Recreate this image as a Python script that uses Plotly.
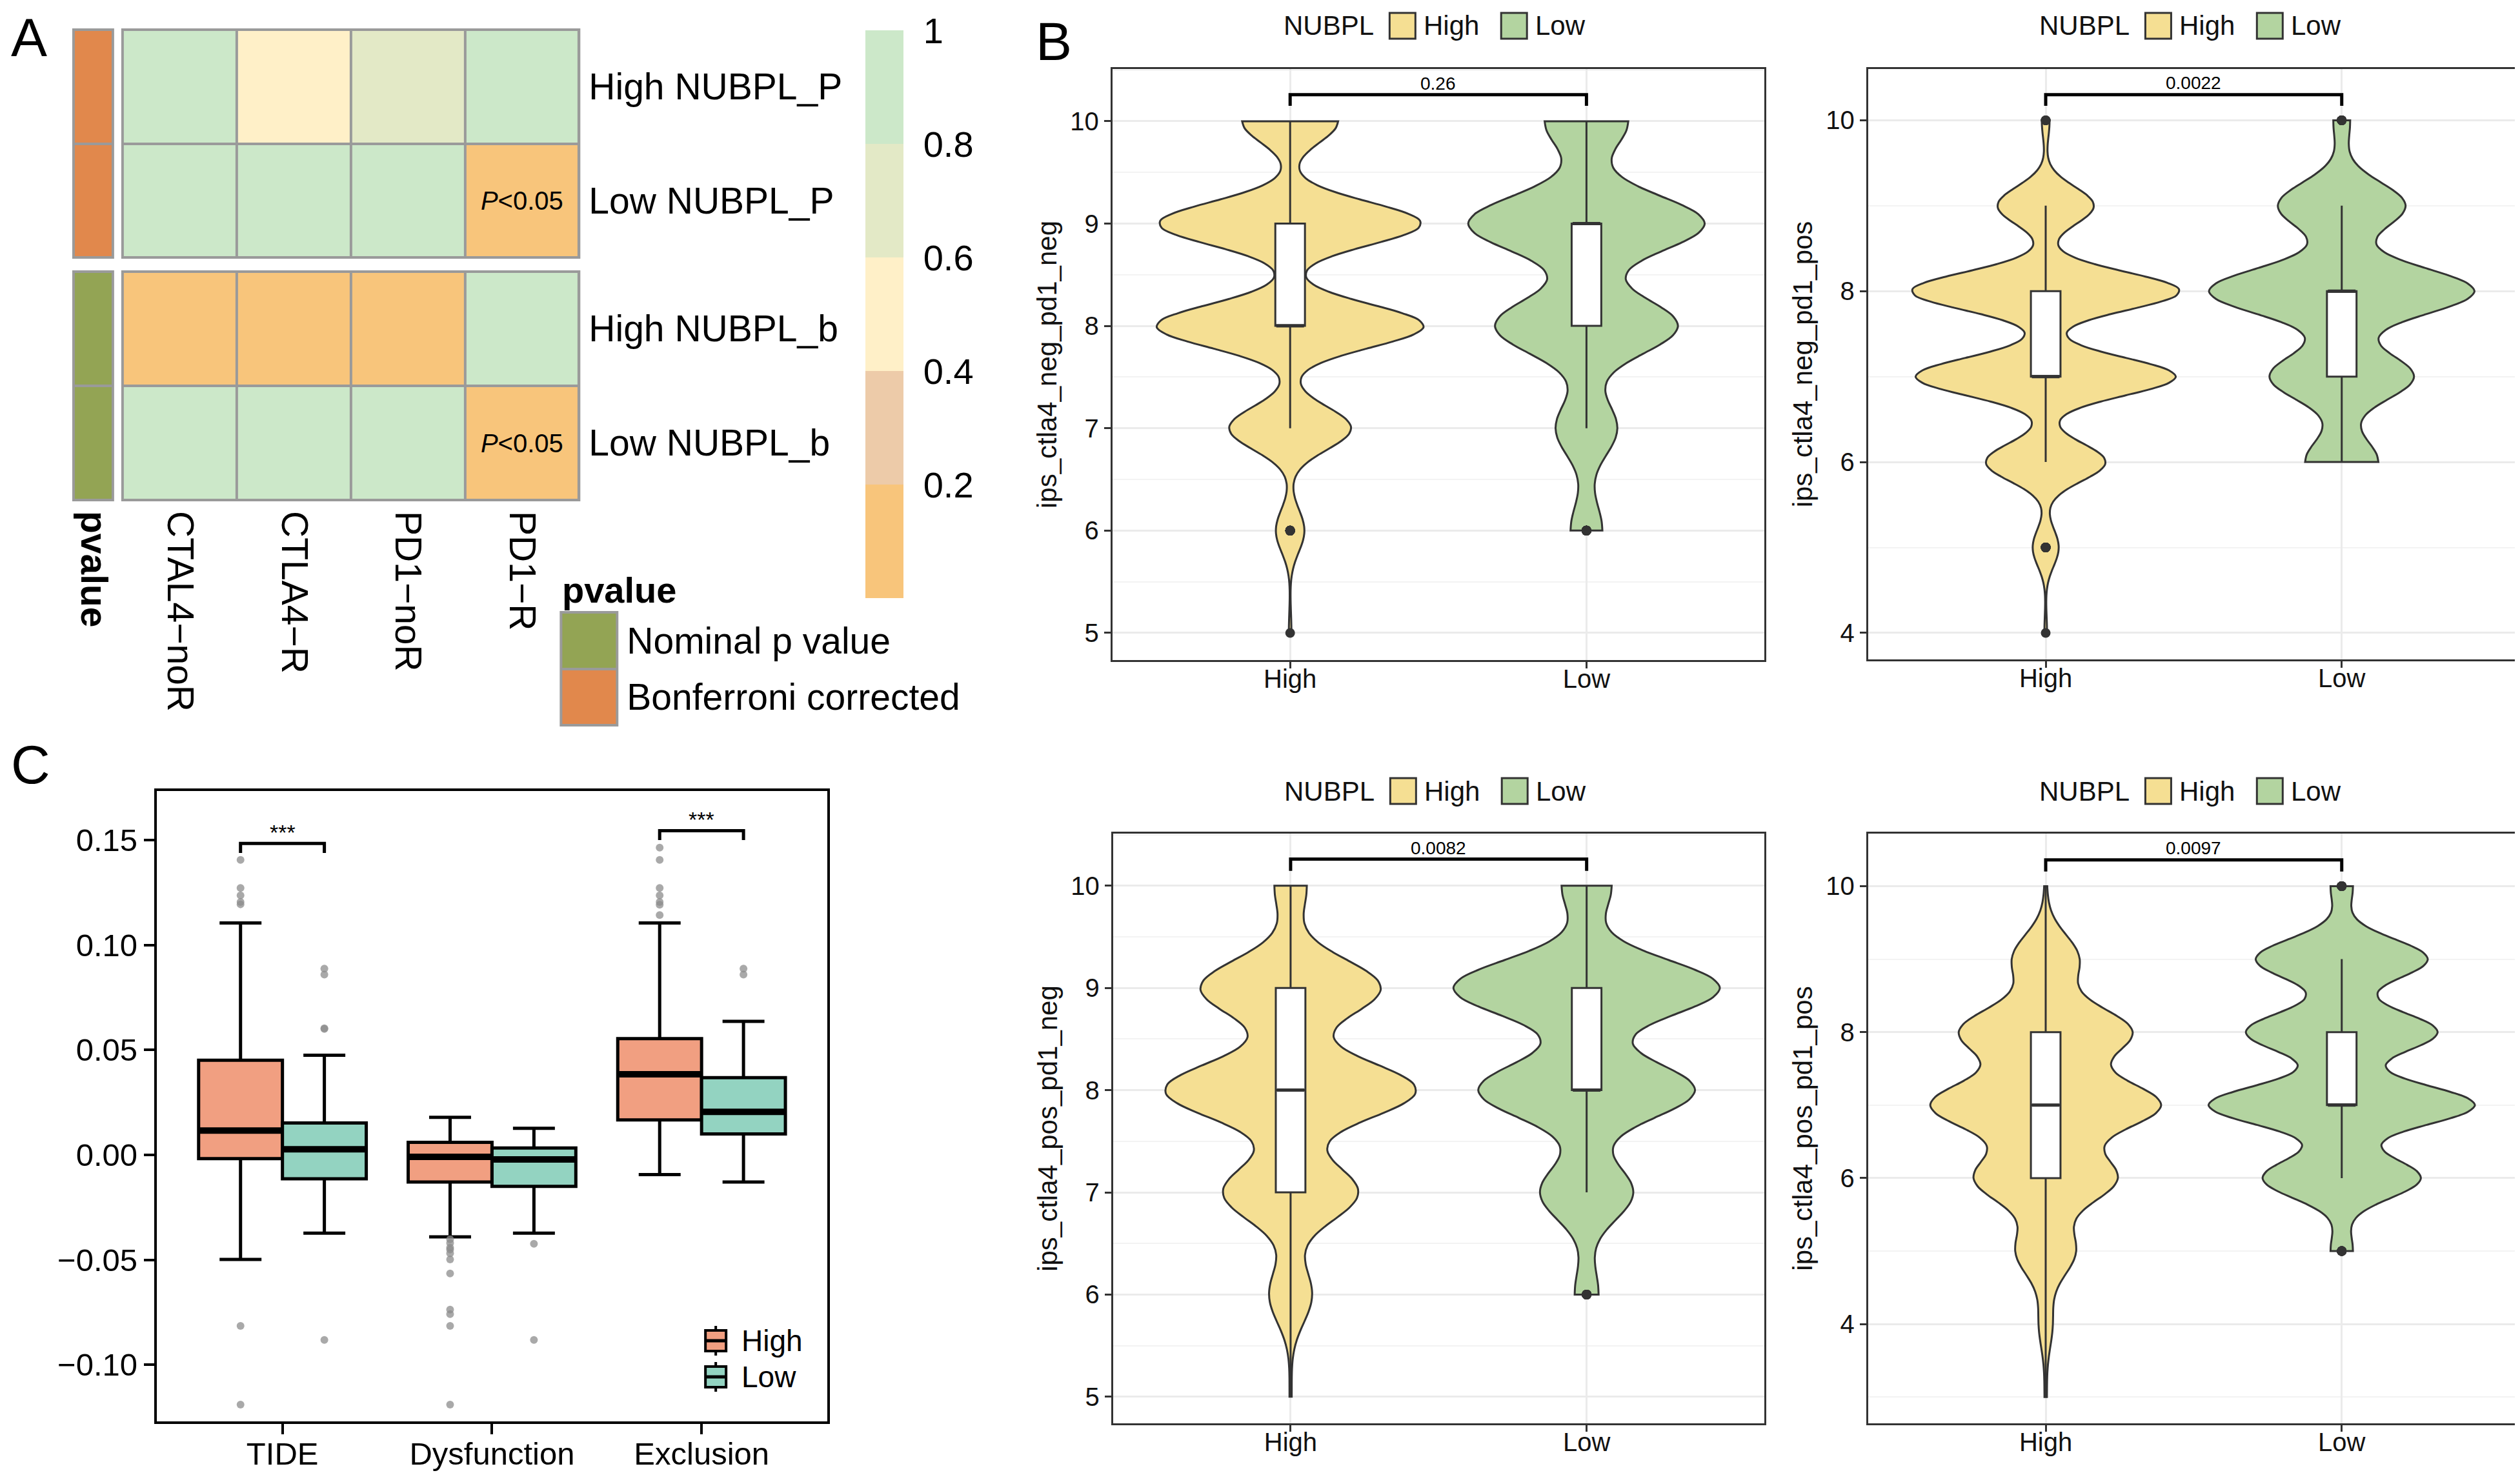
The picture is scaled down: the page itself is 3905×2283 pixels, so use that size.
import numpy as np
import plotly.graph_objects as go

W, H = 3905, 2283
FONT = "Liberation Sans, Arial, Helvetica, sans-serif"

# ---------------- Panel A data ----------------
immuno_cols = ["CTAL4−noR", "CTLA4−R", "PD1−noR", "PD1−R"]
rows_bonferroni = ["High NUBPL_P", "Low NUBPL_P"]
rows_nominal = ["High NUBPL_b", "Low NUBPL_b"]
p_bonferroni = [[0.96, 0.48, 0.70, 1.00],
                [1.00, 1.00, 1.00, 0.02]]
p_nominal = [[0.12, 0.12, 0.17, 0.90],
             [0.95, 0.95, 0.95, 0.004]]
pvalue_types = ["Nominal p value", "Bonferroni corrected"]
band_edges = [0, 0.2, 0.4, 0.6, 0.8, 1.0]
band_colors = ["#F8C57B", "#EDCBA9", "#FFF0C8", "#E3E9C6", "#CCE8C9"]
type_colors = ["#93A454", "#E1884C"]

# ---------------- Panel B data ----------------
score_levels = [3, 4, 5, 6, 7, 8, 9, 10]
ips_names = ["ips_ctla4_neg_pd1_neg", "ips_ctla4_neg_pd1_pos",
             "ips_ctla4_pos_pd1_neg", "ips_ctla4_pos_pd1_pos"]
neg_neg_high = [0, 0, 1, 11, 47, 103, 101, 37]
neg_neg_low = [0, 0, 0, 16, 31, 92, 119, 42]
neg_pos_high = [0, 1, 10, 46, 100, 103, 37, 3]
neg_pos_low = [0, 0, 0, 35, 69, 127, 61, 8]
pos_neg_high = [0, 0, 1, 20, 63, 117, 84, 15]
pos_neg_low = [0, 0, 0, 11, 43, 100, 123, 23]
pos_pos_high = [1, 6, 26, 62, 100, 75, 29, 1]
pos_pos_low = [0, 0, 8, 57, 96, 69, 62, 8]
kde_bw_high = [0.21, 0.222, 0.28, 0.338]
kde_bw_low = [0.274, 0.275, 0.275, 0.277]
p_labels = ["0.26", "0.0022", "0.0082", "0.0097"]
bracket_top = [10.26, 10.30, 10.26, 10.36]
bracket_tip = [10.15, 10.17, 10.145, 10.20]
label_y = [10.37, 10.44, 10.37, 10.52]
groups = ["High", "Low"]

# ---------------- Panel C data ----------------
tide_cats = ["TIDE", "Dysfunction", "Exclusion"]
high_q1 = [-0.0018, -0.0129, 0.0167]
high_median = [0.0116, -0.0009, 0.0384]
high_q3 = [0.0451, 0.0060, 0.0554]
high_lower = [-0.0498, -0.0391, -0.0094]
high_upper = [0.1105, 0.0179, 0.1105]
low_q1 = [-0.0114, -0.0150, 0.0100]
low_median = [0.0027, -0.0022, 0.0205]
low_q3 = [0.0152, 0.0033, 0.0368]
low_lower = [-0.0373, -0.0373, -0.0129]
low_upper = [0.0475, 0.0127, 0.0636]
high_out_tide = [0.1406, 0.1272, 0.1237, 0.1205, 0.1194, -0.0815, -0.1190]
high_out_dys = [-0.0402, -0.0420, -0.0442, -0.0451, -0.0469, -0.0498, -0.0565,
                -0.0737, -0.0759, -0.0815, -0.1190]
high_out_exc = [0.1464, 0.1406, 0.1272, 0.1237, 0.1205, 0.1192, 0.1143]
low_out_tide = [0.0888, 0.0859, 0.0603, 0.0600, -0.0882]
low_out_dys = [-0.0424, -0.0882]
low_out_exc = [0.0888, 0.0859]
sig_labels = ["***", "", "***"]
sig_bracket = [0.1484, None, 0.1545]
sig_tip = 0.0045

# ---------------- helpers ----------------
def dx(a, b):
    return [a / W, b / W]


def dy(top, bot):
    return [1 - bot / H, 1 - top / H]


def kde_peak(vals, bw):
    grid = np.linspace(vals.min(), vals.max(), 1501)
    d = np.exp(-0.5 * ((grid[:, None] - vals[None, :]) / bw) ** 2).sum(1)
    return d.max() / (len(vals) * bw * np.sqrt(2 * np.pi))


LINE_SYM = 1.4  # plotly draws line-ew / line-ns symbols 1.4x the marker size

fig = go.Figure()
layout = {}
shapes = []
annotations = []

pscale = []
for i, c in enumerate(band_colors):
    pscale.append([band_edges[i], c])
    pscale.append([band_edges[i + 1], c])

GRAY = "#9A9A9A"
noax = dict(showgrid=False, zeroline=False, ticks="", showticklabels=False, showline=False)


def cell_text(mat):
    return [["<i>P</i>&lt;0.05" if v < 0.05 else "" for v in row] for row in mat]


# ---------------- Panel A ----------------
fig.add_trace(go.Heatmap(z=p_bonferroni, x=immuno_cols, y=rows_bonferroni, coloraxis="coloraxis",
                         xgap=4, ygap=4, text=cell_text(p_bonferroni), texttemplate="%{text}",
                         textfont=dict(size=40, color="black", family=FONT),
                         xaxis="x", yaxis="y", hoverinfo="skip"))
fig.add_trace(go.Heatmap(z=p_nominal, x=immuno_cols, y=rows_nominal, coloraxis="coloraxis",
                         xgap=4, ygap=4, text=cell_text(p_nominal), texttemplate="%{text}",
                         textfont=dict(size=40, color="black", family=FONT),
                         xaxis="x2", yaxis="y2", hoverinfo="skip"))
type_scale = [[0, type_colors[0]], [0.5, type_colors[0]], [0.5, type_colors[1]], [1, type_colors[1]]]
fig.add_trace(go.Heatmap(z=[[1], [1]], x=["pvalue"], y=rows_bonferroni, colorscale=type_scale,
                         zmin=0, zmax=1, showscale=False, ygap=4, xgap=4,
                         xaxis="x3", yaxis="y3", hoverinfo="skip"))
fig.add_trace(go.Heatmap(z=[[0], [0]], x=["pvalue"], y=rows_nominal, colorscale=type_scale,
                         zmin=0, zmax=1, showscale=False, ygap=4, xgap=4,
                         xaxis="x4", yaxis="y4", hoverinfo="skip"))
fig.add_trace(go.Heatmap(z=[[0], [1]], x=["pvalue"], y=pvalue_types, colorscale=type_scale,
                         zmin=0, zmax=1, showscale=False, ygap=4, xgap=4,
                         xaxis="x9", yaxis="y9", hoverinfo="skip"))

layout["xaxis"] = dict(domain=dx(182, 890), anchor="y", **noax)
layout["yaxis"] = dict(domain=dy(38, 391), anchor="x", side="right", autorange="reversed",
                       showgrid=False, zeroline=False, ticks="", ticklabelstandoff=14,
                       tickfont=dict(size=57))
layout["xaxis2"] = dict(domain=dx(182, 890), anchor="y2", showgrid=False, zeroline=False, ticks="",
                        tickangle=90, tickfont=dict(size=57), ticklabelstandoff=16)
layout["yaxis2"] = dict(domain=dy(413, 767), anchor="x2", side="right", autorange="reversed",
                        showgrid=False, zeroline=False, ticks="", ticklabelstandoff=14,
                        tickfont=dict(size=57))
layout["xaxis3"] = dict(domain=dx(106, 167), anchor="y3", **noax)
layout["yaxis3"] = dict(domain=dy(38, 391), anchor="x3", autorange="reversed", **noax)
layout["xaxis4"] = dict(domain=dx(106, 167), anchor="y4", showgrid=False, zeroline=False, ticks="",
                        tickangle=90, tickfont=dict(size=57, weight="bold"), ticklabelstandoff=16)
layout["yaxis4"] = dict(domain=dy(413, 767), anchor="x4", autorange="reversed", **noax)
layout["xaxis9"] = dict(domain=dx(862, 949), anchor="y9", **noax)
layout["yaxis9"] = dict(domain=dy(941, 1116), anchor="x9", side="right", autorange="reversed",
                        showgrid=False, zeroline=False, ticks="", ticklabelstandoff=14,
                        tickfont=dict(size=57))

for xa, ya in [("x", "y"), ("x2", "y2"), ("x3", "y3"), ("x4", "y4"), ("x9", "y9")]:
    shapes.append(dict(type="rect", xref=f"{xa} domain", yref=f"{ya} domain", x0=0, x1=1, y0=0, y1=1,
                       fillcolor=GRAY, line=dict(color=GRAY, width=4), layer="below"))

layout["coloraxis"] = dict(colorscale=pscale, cmin=0, cmax=1,
                           colorbar=dict(x=1334 / W, xanchor="left", y=1 - 39 / H, yanchor="top",
                                         len=880, lenmode="pixels", thickness=59, thicknessmode="pixels",
                                         xpad=0, ypad=0, outlinewidth=0,
                                         tickvals=[0.2, 0.4, 0.6, 0.8, 1.0],
                                         ticktext=["0.2", "0.4", "0.6", "0.8", "1"],
                                         ticks="outside", ticklen=20, tickcolor="rgba(0,0,0,0)",
                                         tickfont=dict(size=56, color="black")))

annotations.append(dict(text="<b>pvalue</b>", x=862 / W, y=1 - 940 / H, xref="paper", yref="paper",
                        xanchor="left", yanchor="bottom", showarrow=False, font=dict(size=56)))

# ---------------- Panel B ----------------
YELLOW = "#F5DF93"
GREEN = "#B3D4A0"
DARK = "#333333"
b_counts = [(neg_neg_high, neg_neg_low), (neg_pos_high, neg_pos_low),
            (pos_neg_high, pos_neg_low), (pos_pos_high, pos_pos_low)]
b_left = [1717, 2889, 1718, 2889]
b_right = [2728, 3899, 2728, 3899]
b_top = [99, 99, 1284, 1284]
b_bot = [1015, 1014, 2198, 2198]
b_range = [[4.735, 10.51], [3.69, 10.6], [4.74, 10.51], [2.64, 10.72]]
b_dtick = [1, 2, 1, 2]
b_legend_y = [32, 32, 1218, 1218]
BOX_W = 0.1  # inner box width in category units

for k in range(4):
    ax = 5 + k
    xa, ya = f"x{ax}", f"y{ax}"
    px_per_unit = (b_right[k] - b_left[k]) / 2.2
    samples = [np.repeat(score_levels, c) for c in b_counts[k]]
    bws = [kde_bw_high[k], kde_bw_low[k]]
    peaks = [kde_peak(s, b) for s, b in zip(samples, bws)]
    for g, vals, bw, pk, col in zip(groups, samples, bws, peaks, [YELLOW, GREEN]):
        vw = 0.9 * pk / max(peaks)
        fig.add_trace(go.Violin(
            x=[g] * len(vals), y=vals, name=g, showlegend=False, scalemode="width",
            width=vw, spanmode="hard", bandwidth=bw, fillcolor=col, opacity=1,
            line=dict(color=DARK, width=3), points="outliers", pointpos=0, jitter=0,
            marker=dict(color=DARK, size=15, line=dict(width=0)),
            box=dict(visible=True, width=BOX_W / vw, fillcolor="white",
                     line=dict(color=DARK, width=3)),
            meanline=dict(visible=False), xaxis=xa, yaxis=ya, hoverinfo="skip"))
        fig.add_trace(go.Scatter(x=[g], y=[np.median(vals)], mode="markers", showlegend=False,
                                 hoverinfo="skip", xaxis=xa, yaxis=ya,
                                 marker=dict(symbol="line-ew", size=(BOX_W * px_per_unit - 3) / LINE_SYM,
                                             line=dict(color=DARK, width=5))))
    fig.add_trace(go.Scatter(x=[groups[0], groups[0], groups[1], groups[1]],
                             y=[bracket_tip[k], bracket_top[k], bracket_top[k], bracket_tip[k]],
                             mode="lines", line=dict(color="black", width=5), showlegend=False,
                             xaxis=xa, yaxis=ya, hoverinfo="skip"))
    annotations.append(dict(text=p_labels[k], x=0.5, y=label_y[k], xref=xa, yref=ya, showarrow=False,
                            xanchor="center", yanchor="middle", font=dict(size=28, color="black")))
    layout[f"xaxis{ax}"] = dict(domain=dx(b_left[k], b_right[k]), anchor=ya, type="category",
                                categoryorder="array", categoryarray=groups, range=[-0.6, 1.6],
                                showgrid=True, gridcolor="#EBEBEB", gridwidth=3, zeroline=False,
                                ticks="outside", ticklen=10, tickwidth=3, tickcolor=DARK, showline=True,
                                mirror=True, linecolor=DARK, linewidth=3, ticklabelstandoff=-18,
                                tickfont=dict(size=40, color="#111"))
    layout[f"yaxis{ax}"] = dict(domain=dy(b_top[k], b_bot[k]), anchor=xa, range=b_range[k],
                                dtick=b_dtick[k], tick0=0,
                                showgrid=True, gridcolor="#EBEBEB", gridwidth=3, zeroline=False,
                                minor=dict(dtick=b_dtick[k] / 2, showgrid=True, gridcolor="#F3F3F3",
                                           gridwidth=2, ticks=""),
                                ticks="outside", ticklen=10, tickwidth=3, tickcolor=DARK,
                                showline=True, mirror=True, linecolor=DARK, linewidth=3,
                                tickfont=dict(size=40, color="#111"),
                                title=dict(text=ips_names[k], font=dict(size=42, color="#111"), standoff=8))
    # legend key (NUBPL High / Low) drawn on a small category axis
    lx, ly = f"x{11 + k}", f"y{11 + k}"
    cx = b_left[k]
    layout[f"xaxis{11 + k}"] = dict(domain=dx(cx + 363.5, cx + 709.5), anchor=ly, type="category",
                                    categoryorder="array", categoryarray=groups, range=[-0.5, 1.5], **noax)
    layout[f"yaxis{11 + k}"] = dict(domain=dy(b_legend_y[k] - 25, b_legend_y[k] + 25), anchor=lx,
                                    range=[-1, 1], **noax)
    fig.add_trace(go.Scatter(x=groups, y=[0, 0], mode="markers", showlegend=False, hoverinfo="skip",
                             marker=dict(symbol="square", size=40, color=[YELLOW, GREEN],
                                         line=dict(color=DARK, width=3)),
                             xaxis=lx, yaxis=ly))
    for g in groups:
        annotations.append(dict(text=g, x=g, y=0, xref=lx, yref=ly, xanchor="left", yanchor="middle",
                                xshift=31, showarrow=False, font=dict(size=42, color="#111")))
    annotations.append(dict(text="NUBPL", x=groups[0], y=0, xref=lx, yref=ly, xanchor="right",
                            yanchor="middle", xshift=-42, showarrow=False, font=dict(size=42, color="#111")))

# ---------------- Panel C ----------------
SALMON = "#F19F81"
TEAL = "#93D3C1"
dodge = {"High": -0.2, "Low": 0.2}
C_BOX_W = 0.4
c_px_per_unit = (1275 - 235) / 3.2
cat_idx = np.arange(len(tide_cats))
for g, q1, med, q3, lo, up, col, outs in [
        ("High", high_q1, high_median, high_q3, high_lower, high_upper, SALMON,
         [high_out_tide, high_out_dys, high_out_exc]),
        ("Low", low_q1, low_median, low_q3, low_lower, low_upper, TEAL,
         [low_out_tide, low_out_dys, low_out_exc])]:
    xpos = cat_idx + dodge[g]
    fig.add_trace(go.Box(x=xpos, q1=q1, median=med, q3=q3, lowerfence=lo, upperfence=up,
                         width=C_BOX_W, fillcolor=col, line=dict(color="black", width=5),
                         boxpoints=False, name=g, showlegend=False, xaxis="x10", yaxis="y10",
                         hoverinfo="skip"))
    fig.add_trace(go.Scatter(x=xpos, y=med, mode="markers", showlegend=False, hoverinfo="skip",
                             marker=dict(symbol="line-ew", size=(C_BOX_W * c_px_per_unit - 4) / LINE_SYM,
                                         line=dict(color="black", width=10)),
                             xaxis="x10", yaxis="y10"))
    fig.add_trace(go.Scatter(x=np.repeat(xpos, [len(o) for o in outs]),
                             y=np.concatenate([np.array(o) for o in outs]), mode="markers",
                             marker=dict(color="rgba(140,140,140,0.75)", size=12),
                             showlegend=False, xaxis="x10", yaxis="y10", hoverinfo="skip"))

for i, (lab, yb) in enumerate(zip(sig_labels, sig_bracket)):
    if yb is None:
        continue
    xl, xr = i + dodge["High"], i + dodge["Low"]
    fig.add_trace(go.Scatter(x=[xl, xl, xr, xr], y=[yb - sig_tip, yb, yb, yb - sig_tip], mode="lines",
                             line=dict(color="black", width=5), showlegend=False,
                             xaxis="x10", yaxis="y10", hoverinfo="skip"))
    annotations.append(dict(text=lab, x=i, y=yb, xref="x10", yref="y10", xanchor="center",
                            yanchor="bottom", showarrow=False, font=dict(size=34, color="black"),
                            yshift=-4))

layout["xaxis10"] = dict(domain=dx(235, 1275), anchor="y10", range=[-0.6, 2.6], tickvals=list(cat_idx),
                         ticktext=tide_cats, showgrid=False, zeroline=False, ticks="outside", ticklen=16,
                         tickwidth=4, tickcolor="black", showline=True, mirror=True, linecolor="black",
                         linewidth=4, tickfont=dict(size=49, color="black"), ticklabelstandoff=-12)
layout["yaxis10"] = dict(domain=dy(1218, 2195), anchor="x10", range=[-0.127, 0.1734],
                         tickvals=[-0.10, -0.05, 0.0, 0.05, 0.10, 0.15], tickformat=".2f",
                         showgrid=False, zeroline=False, ticks="outside", ticklen=16, tickwidth=4,
                         tickcolor="black", showline=True, mirror=True, linecolor="black", linewidth=4,
                         tickfont=dict(size=49, color="black"))

# legend key for panel C (box-like symbols)
layout["xaxis15"] = dict(domain=dx(1077, 1127), anchor="y15", range=[-1, 1], **noax)
layout["yaxis15"] = dict(domain=dy(2042, 2154), anchor="x15", type="category", categoryorder="array",
                         categoryarray=groups, range=[1.5, -0.5], **noax)
for sym, size, colors, lw in [("line-ns", 46 / LINE_SYM, ["black", "black"], 4),
                              ("square", 32, [SALMON, TEAL], 4),
                              ("line-ew", 32 / LINE_SYM, ["black", "black"], 5)]:
    fig.add_trace(go.Scatter(x=[0, 0], y=groups, mode="markers", showlegend=False, hoverinfo="skip",
                             marker=dict(symbol=sym, size=size, color=colors,
                                         line=dict(color="black", width=lw)),
                             xaxis="x15", yaxis="y15"))
for g in groups:
    annotations.append(dict(text=g, x=0, y=g, xref="x15", yref="y15", xanchor="left", yanchor="middle",
                            xshift=38, showarrow=False, font=dict(size=46, color="black")))

# panel letters
for txt, px, py in [("A", 37, 50), ("B", 1626, 56), ("C", 40, 1177)]:
    annotations.append(dict(text=txt, x=px / W, y=1 - py / H, xref="paper", yref="paper",
                            xanchor="center", yanchor="middle",
                            showarrow=False, font=dict(size=84, color="black")))

fig.update_layout(width=W, height=H, margin=dict(l=0, r=0, t=0, b=0), paper_bgcolor="white",
                  plot_bgcolor="white", font=dict(family=FONT, color="black"), showlegend=False,
                  violinmode="overlay", boxmode="overlay", shapes=shapes, annotations=annotations,
                  **layout)
fig.write_html("out.html")
